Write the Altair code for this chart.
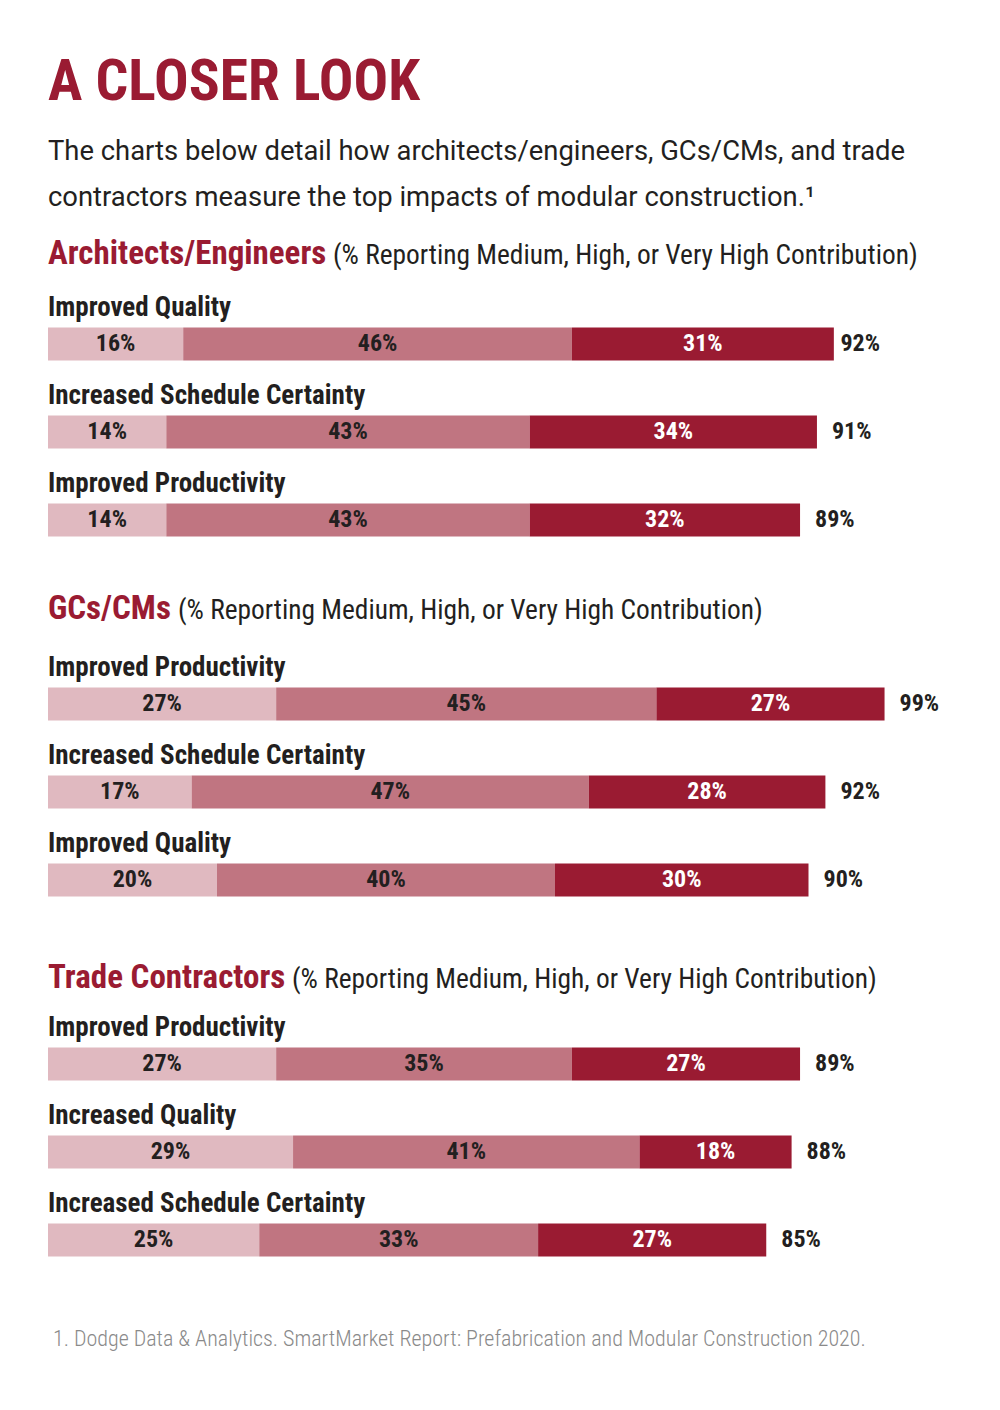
import altair as alt
import pandas as pd

# ---------------- data ----------------
levels = ["Medium", "High", "Very High"]

arch_items = ["Improved Quality", "Increased Schedule Certainty", "Improved Productivity"]
arch_medium = [16, 14, 14]
arch_high = [46, 43, 43]
arch_veryhigh = [31, 34, 32]
arch_total = [92, 91, 89]

gc_items = ["Improved Productivity", "Increased Schedule Certainty", "Improved Quality"]
gc_medium = [27, 17, 20]
gc_high = [45, 47, 40]
gc_veryhigh = [27, 28, 30]
gc_total = [99, 92, 90]

tc_items = ["Improved Productivity", "Increased Quality", "Increased Schedule Certainty"]
tc_medium = [27, 29, 25]
tc_high = [35, 41, 33]
tc_veryhigh = [27, 18, 27]
tc_total = [89, 88, 85]

title_text = "A CLOSER LOOK"
intro_lines = [
    "The charts below detail how architects/engineers, GCs/CMs, and trade",
    "contractors measure the top impacts of modular construction.\u00b9",
]
section_names = ["Architects/Engineers", "GCs/CMs", "Trade Contractors"]
section_note = "(% Reporting Medium, High, or Very High Contribution)"
footnote = "1. Dodge Data & Analytics. SmartMarket Report: Prefabrication and Modular Construction 2020."

# ---------------- style / layout ----------------
RED = "#9A1B32"
COLORS = ["#E0B9C0", "#C07581", "#9A1B32"]
DARK = "#231F20"
COND = "Roboto Condensed, Liberation Sans Narrow, DejaVu Sans Condensed, Roboto, sans-serif"
STEP = 88
BAR_H = 33
PLOT_W = 845
HEAD_H = 70                 # room above the rows for the section heading
HEAD_BASE = [34, 29, 38]    # heading baseline inside each panel
NOTE_X = [285, 130, 244]    # x offset of the parenthetical note after each section name


def long_table(items, med, high, vh):
    rows = []
    for i, it in enumerate(items):
        for lv, vals in enumerate([med, high, vh], start=1):
            rows.append({"item": it, "level": lv, "levelName": levels[lv - 1], "value": vals[i]})
    return pd.DataFrame(rows)


def panel(name, note_x, head_y, items, med, high, vh, total):
    df = long_table(items, med, high, vh)
    tot = pd.DataFrame({"item": items, "total": total})
    panel_h = HEAD_H + STEP * len(items)
    xs = alt.Scale(domain=[0, 100], range=[0, PLOT_W])
    ys = alt.Scale(domain=items, range=[HEAD_H, panel_h], paddingInner=0, paddingOuter=0)
    y = alt.Y("item:N", scale=ys, axis=None, sort=items)

    base = alt.Chart(df).transform_stack(
        stack="value", as_=["x0", "x1"], groupby=["item"],
        sort=[alt.SortField("level", order="ascending")],
    ).transform_calculate(mid="(datum.x0 + datum.x1) / 2", lab="datum.value + '%'")

    bars = base.mark_bar(height=BAR_H).encode(
        x=alt.X("x0:Q", scale=xs, axis=None),
        x2="x1:Q",
        y=y,
        color=alt.Color("level:O", scale=alt.Scale(domain=[1, 2, 3], range=COLORS), legend=None),
    )
    seg_text = base.mark_text(font=COND, fontWeight="bold", fontSize=24, baseline="middle").encode(
        x=alt.X("mid:Q", scale=xs, axis=None),
        y=y,
        text="lab:N",
        color=alt.condition(alt.datum.level == 3, alt.value("white"), alt.value(DARK)),
    )

    tot_text = alt.Chart(tot).transform_calculate(lab="datum.total + '%'").mark_text(
        font=COND, fontWeight="bold", fontSize=24, align="left", baseline="middle", dx=15, color=DARK
    ).encode(x=alt.X("total:Q", scale=xs, axis=None), y=y, text="lab:N")

    row_lab = alt.Chart(tot).mark_text(
        font=COND, fontWeight="bold", fontSize=27, align="left", baseline="middle", dy=-36, color=DARK
    ).encode(x=alt.value(0), y=y, text="item:N")

    head = alt.Chart(pd.DataFrame({"t": [name]})).mark_text(
        font=COND, fontSize=33, fontWeight="bold", align="left", baseline="alphabetic", color=RED
    ).encode(x=alt.value(0), y=alt.value(head_y), text="t:N")

    note = alt.Chart(pd.DataFrame({"t": [section_note]})).mark_text(
        font=COND, fontSize=27.4, align="left", baseline="alphabetic", color=DARK
    ).encode(x=alt.value(note_x), y=alt.value(head_y), text="t:N")

    return alt.layer(bars, seg_text, tot_text, row_lab, head, note).properties(
        width=PLOT_W, height=panel_h,
    )


p1 = panel(section_names[0], NOTE_X[0], HEAD_BASE[0], arch_items, arch_medium, arch_high, arch_veryhigh, arch_total)
p2 = panel(section_names[1], NOTE_X[1], HEAD_BASE[1], gc_items, gc_medium, gc_high, gc_veryhigh, gc_total)
p3 = panel(section_names[2], NOTE_X[2], HEAD_BASE[2], tc_items, tc_medium, tc_high, tc_veryhigh, tc_total)

foot = alt.Chart(pd.DataFrame({"t": [footnote]})).mark_text(
    font=COND, fontSize=22, fontWeight=300, align="left", baseline="alphabetic", color="#8A8A8A"
).encode(x=alt.value(5), y=alt.value(36), text="t:N").properties(width=PLOT_W, height=45)

chart = alt.vconcat(p1, p2, p3, foot, spacing=26).properties(
    padding={"left": 40, "top": 46, "right": 10, "bottom": 5},
    title=alt.TitleParams(
        text=title_text, subtitle=intro_lines, anchor="start",
        font=COND, fontSize=57.5, fontWeight="bold", color=RED,
        subtitleFont="Roboto", subtitleFontSize=27.4, subtitleColor=DARK,
        subtitleLineHeight=46, subtitlePadding=25, offset=18,
    ),
).configure_view(stroke=None)

chart.save("out.html", embed_options={"renderer": "svg", "actions": False})
